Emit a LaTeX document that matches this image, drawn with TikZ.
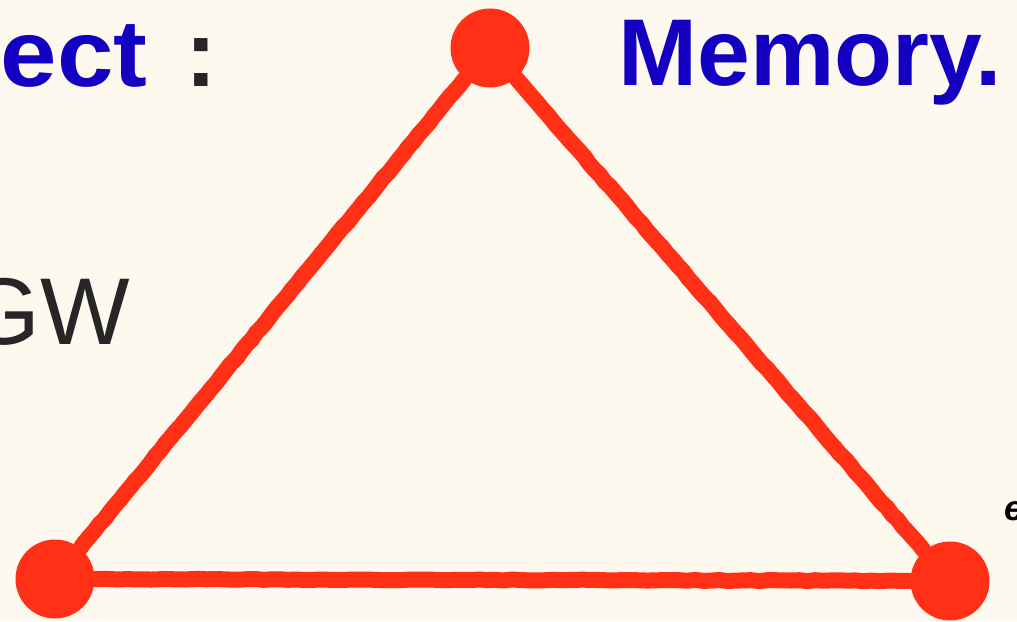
\documentclass[tikz,border=0pt]{standalone}
\usepackage{fontspec}
\setmainfont{Liberation Sans}
\usetikzlibrary{decorations.pathmorphing}
\definecolor{paper}{RGB}{253,249,238}
\definecolor{chalkred}{RGB}{255,48,22}
\definecolor{inkblue}{RGB}{20,0,192}
\definecolor{inkgray}{RGB}{38,38,38}
\tikzset{
  vertex/.style={circle, fill=chalkred, inner sep=0pt, minimum size=7.9mm},
  edge/.style={chalkred, line width=1.6mm, line cap=round, decorate,
    decoration={random steps, segment length=0.8mm, amplitude=0.05mm}},
  bigtext/.style={font=\fontsize{27}{30}\selectfont, inner sep=0pt, anchor=base west}
}
\begin{document}
\begin{tikzpicture}
\fill[paper] (0,0) rectangle (10.17,6.21);
\useasboundingbox (0,0) rectangle (10.17,6.21);
% headings
\node[bigtext] (head) at (0.00,5.34) {\bfseries\color{inkblue}\scalebox{1.07}[1]{ect}\ \hspace{1.2mm}\color{inkgray}:};
\node[bigtext] (mem) at (6.18,5.35) {\bfseries\color{inkblue}Memory.};
\node[bigtext, anchor=base east, text=inkgray] (gw) at (1.31,2.76) {GW};
\node[anchor=base west, inner sep=0pt, font=\fontsize{10}{12}\selectfont\bfseries\itshape] (cut) at (10.04,1.01) {e};
% triangle
\node[vertex] (top) at (4.90,5.73) {};
\node[vertex] (left) at (0.55,0.42) {};
\node[vertex] (right) at (9.50,0.40) {};
\draw[edge] (top) -- (left);
\draw[edge] (left) -- (right);
\draw[edge] (right) -- (top);
\end{tikzpicture}
\end{document}
